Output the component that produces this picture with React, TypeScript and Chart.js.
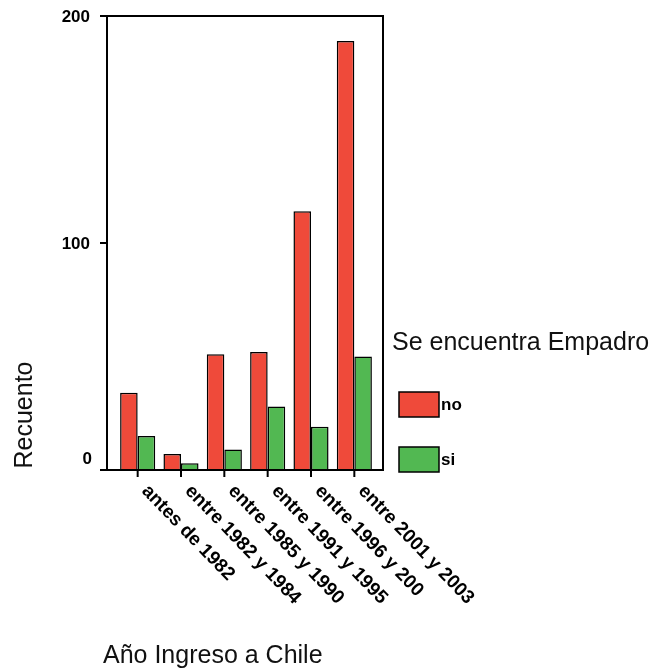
import { useEffect, useRef } from "react";
import { Chart, registerables } from "chart.js";

Chart.register(...registerables);

const categories = [
  "antes de 1982",
  "entre 1982 y 1984",
  "entre 1985 y 1990",
  "entre 1991 y 1995",
  "entre 1996 y 200",
  "entre 2001 y 2003",
];
const noValues = [34, 7, 51, 52, 114, 189];
const siValues = [15, 3, 9, 28, 19, 50];
const yTicks = [0, 100, 200];
const seriesLabels = ["no", "si"];
const legendTitle = "Se encuentra Empadro";
const xTitle = "Año Ingreso a Chile";
const yTitle = "Recuento";

const RED = "#EF4A3A";
const GREEN = "#52B852";
const FONT = '"Liberation Sans", Arial, sans-serif';

const W = 656;
const H = 671;

const decorPlugin = {
  id: "decor",
  afterDatasetsDraw(chart: any) {
    const { ctx, chartArea } = chart;
    const xs = chart.scales.x;
    const ys = chart.scales.y;
    const left = chartArea.left - 9;
    const right = chartArea.right + 7;
    const top = chartArea.top;
    const bottom = chartArea.bottom;
    ctx.save();
    ctx.strokeStyle = "#000";
    ctx.lineWidth = 2;
    ctx.strokeRect(left, top, right - left, bottom - top);

    // y ticks
    ctx.fillStyle = "#000";
    ctx.font = `bold 17px ${FONT}`;
    ctx.textAlign = "right";
    ctx.textBaseline = "middle";
    yTicks.forEach((v) => {
      const y = ys.getPixelForValue(v);
      ctx.beginPath();
      ctx.moveTo(left - 7, y);
      ctx.lineTo(left, y);
      ctx.stroke();
      if (v === 0) ctx.fillText(String(v), 92, y - 11);
      else ctx.fillText(String(v), 90, y + 1);
    });

    // x ticks and rotated labels
    ctx.font = `bold 19px ${FONT}`;
    ctx.textAlign = "left";
    ctx.textBaseline = "middle";
    categories.forEach((c, i) => {
      const x = xs.getPixelForValue(i);
      ctx.beginPath();
      ctx.moveTo(x, bottom);
      ctx.lineTo(x, bottom + 7);
      ctx.stroke();
      ctx.save();
      ctx.translate(x + 7, bottom + 18);
      ctx.rotate((46 * Math.PI) / 180);
      ctx.fillText(c, 0, 0);
      ctx.restore();
    });

    // axis titles
    ctx.font = `25px ${FONT}`;
    ctx.fillStyle = "#111";
    ctx.textAlign = "left";
    ctx.textBaseline = "alphabetic";
    ctx.fillText(xTitle, 103, 663);
    ctx.save();
    ctx.translate(32, 415);
    ctx.rotate(-Math.PI / 2);
    ctx.textAlign = "center";
    ctx.fillText(yTitle, 0, 0);
    ctx.restore();

    // legend
    ctx.fillText(legendTitle, 392, 350);
    const colors = [RED, GREEN];
    const boxY = [392, 447];
    ctx.font = `bold 17px ${FONT}`;
    ctx.textBaseline = "middle";
    seriesLabels.forEach((lab, i) => {
      ctx.fillStyle = colors[i];
      ctx.fillRect(399, boxY[i], 40, 25);
      ctx.lineWidth = 1.5;
      ctx.strokeStyle = "#000";
      ctx.strokeRect(399, boxY[i], 40, 25);
      ctx.fillStyle = "#000";
      ctx.fillText(lab, 441, boxY[i] + 13);
    });
    ctx.restore();
  },
};

export default function App() {
  const ref = useRef<HTMLCanvasElement>(null);
  useEffect(() => {
    document.body.style.margin = "0";
    const chart = new Chart(ref.current as HTMLCanvasElement, {
      type: "bar",
      data: {
        labels: categories,
        datasets: [
          {
            label: seriesLabels[0],
            data: noValues,
            backgroundColor: RED,
            borderColor: "#000",
            borderWidth: 1.5,
          },
          {
            label: seriesLabels[1],
            data: siValues,
            backgroundColor: GREEN,
            borderColor: "#000",
            borderWidth: 1.5,
          },
        ],
      },
      options: {
        responsive: false,
        animation: false,
        devicePixelRatio: 1,
        layout: { padding: { left: 116, right: 280, top: 16, bottom: 201 } },
        datasets: { bar: { categoryPercentage: 0.81, barPercentage: 1 } } as any,
        plugins: { legend: { display: false }, tooltip: { enabled: false } },
        scales: {
          x: { display: false, offset: true },
          y: { display: false, min: 0, max: 200 },
        },
      },
      plugins: [decorPlugin],
    });
    return () => chart.destroy();
  }, []);
  return <canvas ref={ref} width={W} height={H} style={{ display: "block" }} />;
}
